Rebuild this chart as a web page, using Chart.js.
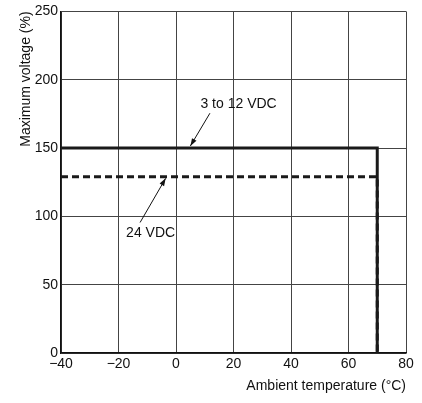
<html><head><meta charset="utf-8">
<script src="https://cdn.jsdelivr.net/npm/chart.js@4"></script>
<style>
  body { margin: 0; background: #fff; }
  #wrap { position: relative; width: 422px; height: 403px; }
</style>
</head>
<body>
<div id="wrap"><canvas id="myChart" width="422" height="403"></canvas></div>
<script>
// temperature breakpoints (deg C)
var tempX = [-40, 70, 70];
// maximum voltage (%) for each supply range
var volt3to12 = [150, 150, 0];
var volt24 = [129, 129, 0];
var xTicks = [-40, -20, 0, 20, 40, 60, 80];
var yTicks = [0, 50, 100, 150, 200, 250];

function pts(xs, ys) {
  return xs.map(function (x, i) { return { x: x, y: ys[i] }; });
}

// labels with arrows: text anchor and arrow tip in data units
var notes = [
  { text: '3 to 12 VDC', tx: 8.5, ty: 182, align: 'left', ax: 11.8, ay: 175.5, bx: 5, by: 151.5 },
  { text: '24 VDC', tx: -0.3, ty: 88, align: 'right', ax: -12.5, ay: 95.5, bx: -3.6, by: 127.8 }
];

var noteLayer = {
  id: 'notes',
  afterDatasetsDraw: function (chart) {
    var c = chart.ctx, xs = chart.scales.x, ys = chart.scales.y;
    c.save();
    c.font = '14px "Liberation Sans", Arial, sans-serif';
    c.fillStyle = '#111';
    c.strokeStyle = '#111';
    c.lineWidth = 1;
    notes.forEach(function (n) {
      c.textAlign = n.align;
      c.textBaseline = 'middle';
      c.fillText(n.text, xs.getPixelForValue(n.tx), ys.getPixelForValue(n.ty));
      var x1 = xs.getPixelForValue(n.ax), y1 = ys.getPixelForValue(n.ay);
      var x2 = xs.getPixelForValue(n.bx), y2 = ys.getPixelForValue(n.by);
      c.beginPath(); c.moveTo(x1, y1); c.lineTo(x2, y2); c.stroke();
      var a = Math.atan2(y2 - y1, x2 - x1), L = 8, w = 0.33;
      c.beginPath();
      c.moveTo(x2, y2);
      c.lineTo(x2 - L * Math.cos(a - w), y2 - L * Math.sin(a - w));
      c.lineTo(x2 - L * Math.cos(a + w), y2 - L * Math.sin(a + w));
      c.closePath(); c.fill();
    });
    c.restore();
  }
};

var font = { family: '"Liberation Sans", Arial, sans-serif', size: 14 };

var ctx = document.getElementById('myChart');
var myChart = new Chart(ctx, {
  type: 'scatter',
  data: {
    datasets: [{
      data: pts(tempX, volt3to12),
      showLine: true, borderColor: '#1a1a1a', borderWidth: 3,
      pointRadius: 0, tension: 0
    }, {
      data: pts(tempX, volt24),
      showLine: true, borderColor: '#1a1a1a', borderWidth: 3, borderDash: [7, 4],
      pointRadius: 0, tension: 0
    }]
  },
  plugins: [noteLayer],
  options: {
    responsive: false,
    animation: false,
    layout: { padding: { top: 10, right: 16, left: 0, bottom: 0 } },
    plugins: { legend: { display: false }, tooltip: { enabled: false } },
    scales: {
      x: {
        type: 'linear', min: -40, max: 80,
        afterBuildTicks: function (s) { s.ticks = xTicks.map(function (v) { return { value: v }; }); },
        afterFit: function (s) { s.height = 50; },
        grid: { color: '#444', lineWidth: 1, drawTicks: false },
        border: { color: '#111', width: 1.5 },
        ticks: {
          color: '#111', font: font, padding: 3, maxRotation: 0,
          callback: function (v) { return String(v).replace('-', '\u2212'); }
        },
        title: { display: true, text: 'Ambient temperature (\u00B0C)', align: 'end', color: '#111', font: font, padding: { top: 0, bottom: 8 } }
      },
      y: {
        type: 'linear', min: 0, max: 250,
        afterBuildTicks: function (s) { s.ticks = yTicks.map(function (v) { return { value: v }; }); },
        afterFit: function (s) { s.width = 61; },
        grid: { color: '#444', lineWidth: 1, drawTicks: false },
        border: { color: '#111', width: 1.5 },
        ticks: { color: '#111', font: font, padding: 3 },
        title: { display: true, text: 'Maximum voltage (%)', align: 'end', color: '#111', font: font, padding: { top: 18, bottom: 0 } }
      }
    }
  }
});
</script>
</body></html>
